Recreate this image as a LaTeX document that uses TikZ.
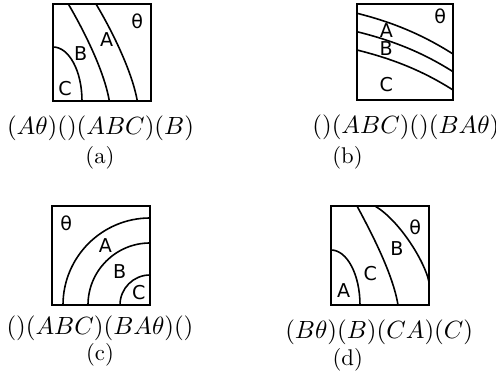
\documentclass[tikz,border=0pt]{standalone}
\usepackage{fontspec}
\newfontfamily\lblfont{DejaVu Sans}
\begin{document}
\begin{tikzpicture}[x=0.44pt,y=-0.44pt,
  frame/.style={draw, line width=0.9pt},
  curve/.style={draw, line width=0.7pt},
  lbl/.style={font=\lblfont\fontsize{8.4}{10}\selectfont, inner sep=0},
  captext/.style={font=\fontsize{11}{13}\selectfont, inner sep=0, anchor=base},
  subtext/.style={font=\fontsize{10}{12}\selectfont, inner sep=0, anchor=base}]
\useasboundingbox (0,0) rectangle (496,375);
% (a)
\draw[curve] (53,47) .. controls (69,47) and (82,71) .. (82,101);
\draw[curve] (68.3,4) .. controls (83,29) and (104.3,70.7) .. (109.3,101);
\draw[curve] (96,4) .. controls (111,29) and (132,70.7) .. (137.3,101);
\draw[frame] (53,4) rectangle (151,101);
\node[lbl] (at) at (137.3,21.7) {θ};
\node[lbl] (aa) at (106.7,40) {A};
\node[lbl] (ab) at (80.7,53.3) {B};
\node[lbl] (ac) at (65,88.3) {C};
\node[captext] (capa) at (100.5,134.4) {$(A\theta)()(ABC)(B)$};
\node[subtext] (suba) at (100,164) {(a)};
% (b)
\draw[curve] (357,13.3) .. controls (389,21.3) and (420,33) .. (453,54);
\draw[curve] (357,31.7) .. controls (389,39.7) and (420,50.7) .. (453,71.7);
\draw[curve] (357,50) .. controls (389,58) and (420,69) .. (453,90);
\draw[frame] (357,4) rectangle (453,100);
\node[lbl] (bt) at (440.3,16.7) {θ};
\node[lbl] (ba) at (386.3,30.7) {A};
\node[lbl] (bb) at (386.3,48.3) {B};
\node[lbl] (bc) at (386.3,85) {C};
\node[captext, anchor=base west] (capb) at (312,134) {$()(ABC)()(BA\theta)$};
\node[subtext] (subb) at (347.5,163.2) {(b)};
% (c)
\draw[curve] (63,305) .. controls (63,257) and (102,218) .. (150,218);
\draw[curve] (88,305) .. controls (88,270.8) and (115.8,243) .. (150,243);
\draw[curve] (120,305) .. controls (120,288.4) and (133.4,275) .. (150,275);
\draw[frame] (52,206) rectangle (150,305);
\node[lbl] (ct) at (66.3,223.7) {θ};
\node[lbl] (ca) at (105.3,245.3) {A};
\node[lbl] (cb) at (119.7,271.3) {B};
\node[lbl] (cc) at (138.7,292.7) {C};
\node[captext] (capc) at (100,334.9) {$()(ABC)(BA\theta)()$};
\node[subtext] (subc) at (100,360.2) {(c)};
% (d)
\draw[curve] (331,250) .. controls (347,250) and (360,274.6) .. (360,305);
\draw[curve] (357,206) .. controls (371,232) and (393,274) .. (398,305);
\draw[curve] (375,206) .. controls (400,221) and (425,262) .. (429,282);
\draw[frame] (331,206) rectangle (429,305);
\node[lbl] (dt) at (415.3,227) {θ};
\node[lbl] (db) at (397,248.7) {B};
\node[lbl] (dc) at (370.3,273.7) {C};
\node[lbl] (da) at (343.7,290.3) {A};
\node[captext] (capd) at (379.2,339) {$(B\theta)(B)(CA)(C)$};
\node[subtext] (subd) at (347.7,365.4) {(d)};
\end{tikzpicture}
\end{document}
